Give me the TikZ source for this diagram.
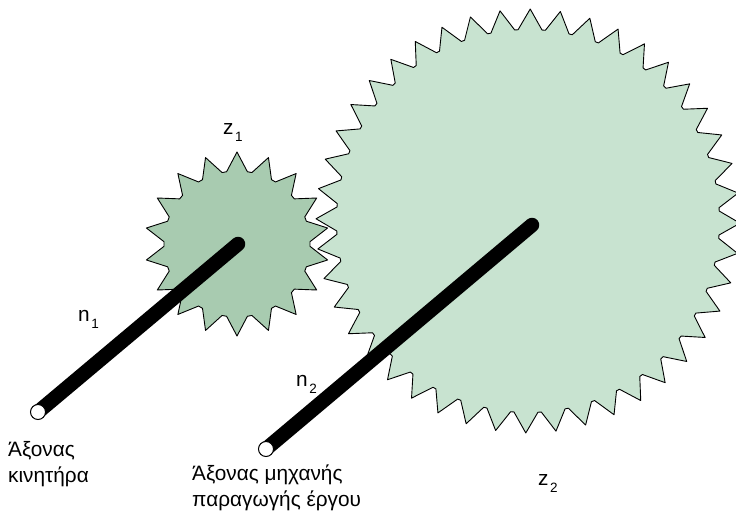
\documentclass[tikz,border=0pt]{standalone}
\usepackage{fontspec}
\setmainfont{Liberation Sans}
\usepackage{xcolor}
\usetikzlibrary{calc}
\definecolor{gearone}{HTML}{A8CBB0}
\definecolor{geartwo}{HTML}{C8E3D0}
\tikzset{
  gearline/.style={draw=black,line width=0.9pt,line join=round},
  shaft/.style={line width=14.5pt,line cap=round},
  shaftend/.style={draw=black,fill=white,line width=1pt},
  lbl/.style={font=\fontsize{20.8}{26}\selectfont,align=left,inner sep=0pt},
}
\newcommand{\subnum}[1]{\kern1.5pt\raisebox{-7pt}{\fontsize{13.5}{14}\selectfont #1}}
\begin{document}
\begin{tikzpicture}[x=1pt,y=-1pt]
  \useasboundingbox (0,0) rectangle (736,511);
  \clip (0,0) rectangle (736,511);
  \coordinate (C1) at (237,244);
  \coordinate (C2) at (528,221);
  \coordinate (S1) at (238,244);
  \coordinate (S2) at (532,225);
  \coordinate (E1) at (38,412);
  \coordinate (E2) at (266,449);
  % large gear
  \draw[gearline,fill=geartwo] (C2) ++(-89.4:212)
    \foreach \i in {0,...,43} {
      -- ($(C2)+({-89.4+\i*360/44+3.6}:191.5)$)
      -- ($(C2)+({-89.4+\i*360/44+4.6}:191.5)$)
      -- ($(C2)+({-89.4+(\i+1)*360/44}:212)$)
    } -- cycle;
  % small gear
  \draw[gearline,fill=gearone] (C1) ++(-90:92)
    \foreach \i in {0,...,17} {
      -- ($(C1)+({-90+\i*20+8.2}:73)$)
      -- ($(C1)+({-90+\i*20+11.8}:73)$)
      -- ($(C1)+({-90+(\i+1)*20}:92)$)
    } -- cycle;
  % shafts
  \draw[shaft] (E1) -- (S1);
  \draw[shaft] (E2) -- (S2);
  \draw[shaftend] (E1) circle (7.5);
  \draw[shaftend] (E2) circle (7.5);
  \node[lbl,anchor=west] (z1) at (223,133) {z\subnum{1}};
  \node[lbl,anchor=west] (z2) at (538,483) {z\subnum{2}};
  \node[lbl,anchor=west] (n1) at (78,319) {n\subnum{1}};
  \node[lbl,anchor=west] (n2) at (296,384) {n\subnum{2}};
  \node[lbl,anchor=north west] (mot) at (8,441.5) {Άξονας\\κινητήρα};
  \node[lbl,anchor=north west] (mach) at (192,465) {Άξονας μηχανής\\παραγωγής έργου};
\end{tikzpicture}
\end{document}
